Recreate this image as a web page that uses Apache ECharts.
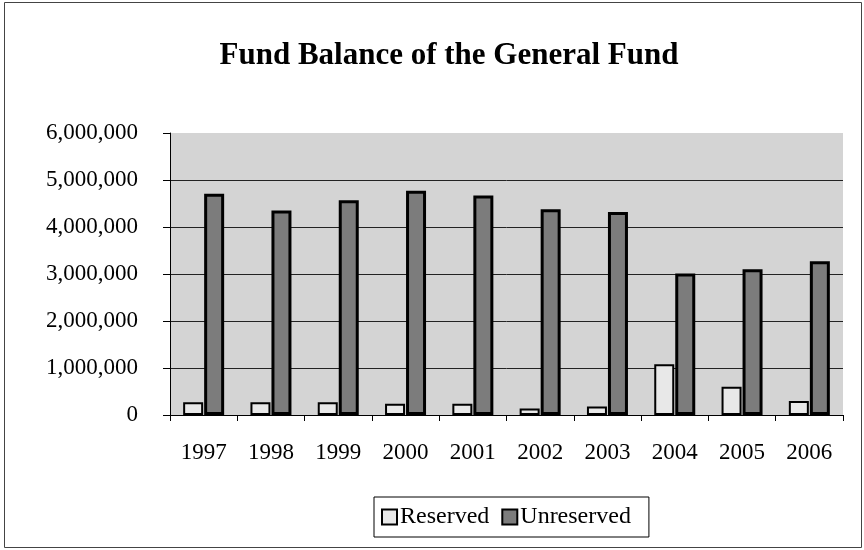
<!DOCTYPE html>
<html>
<head>
<meta charset="utf-8">
<script src="https://cdn.jsdelivr.net/npm/echarts@6/dist/echarts.min.js"></script>
<style>
html,body{margin:0;padding:0;background:#fff;}
#chart{width:864px;height:550px;}
</style>
</head>
<body>
<div id="chart"></div>
<script>
var titleText = 'Fund Balance of the General Fund';
var years = ['1997','1998','1999','2000','2001','2002','2003','2004','2005','2006'];
var reserved = [270000, 270000, 270000, 240000, 240000, 140000, 180000, 1080000, 600000, 300000];
var unreserved = [4710000, 4350000, 4570000, 4770000, 4670000, 4380000, 4320000, 3010000, 3100000, 3270000];
var seriesNames = ['Reserved', 'Unreserved'];
var yMin = 0, yMax = 6000000, yStep = 1000000;

var font = '"Liberation Serif", "Times New Roman", serif';
var chart = echarts.init(document.getElementById('chart'));
chart.setOption({
  animation: false,
  backgroundColor: '#ffffff',
  title: {
    text: titleText,
    left: 444,
    top: 35,
    textAlign: 'center',
    textStyle: {fontFamily: font, fontSize: 31, fontWeight: 'bold', color: '#000'}
  },
  grid: {left: 170, right: 21, top: 133, bottom: 135, show: true, backgroundColor: '#d4d4d4', borderWidth: 0},
  legend: {
    data: seriesNames,
    icon: 'rect',
    left: 374,
    top: 497,
    padding: [8, 18, 8, 7],
    itemGap: 12,
    itemWidth: 15,
    itemHeight: 15,
    borderColor: '#000',
    borderWidth: 1,
    textStyle: {fontFamily: font, fontSize: 24, color: '#000', padding: [0, 0, 0, -2]}
  },
  xAxis: {
    type: 'category',
    data: years,
    axisLine: {lineStyle: {color: '#000', width: 1}},
    axisTick: {show: true, inside: false, length: 6, lineStyle: {color: '#000'}},
    axisLabel: {fontFamily: font, fontSize: 23, color: '#000', margin: 26},
    splitLine: {show: false}
  },
  yAxis: {
    type: 'value',
    min: yMin,
    max: yMax,
    interval: yStep,
    axisLine: {show: true, lineStyle: {color: '#000', width: 1}},
    axisTick: {show: true, inside: false, length: 7, lineStyle: {color: '#000'}},
    axisLabel: {
      fontFamily: font, fontSize: 23, color: '#000', margin: 32,
      formatter: function (v) { return v.toLocaleString('en-US'); }
    },
    splitLine: {show: true, showMinLine: false, showMaxLine: false, lineStyle: {color: '#222', width: 1}}
  },
  series: [
    {
      name: seriesNames[0],
      type: 'bar',
      data: reserved,
      barWidth: 20,
      barGap: '5%',
      itemStyle: {color: '#e8e8e8', borderColor: '#000', borderWidth: 2}
    },
    {
      name: seriesNames[1],
      type: 'bar',
      data: unreserved,
      barWidth: 20,
      barGap: '5%',
      itemStyle: {color: '#7c7c7c', borderColor: '#000', borderWidth: 3}
    }
  ],
  graphic: [{
    type: 'rect',
    shape: {x: 4.5, y: 2.5, width: 857, height: 545},
    style: {fill: 'none', stroke: '#444', lineWidth: 1},
    silent: true
  }]
});
</script>
</body>
</html>
